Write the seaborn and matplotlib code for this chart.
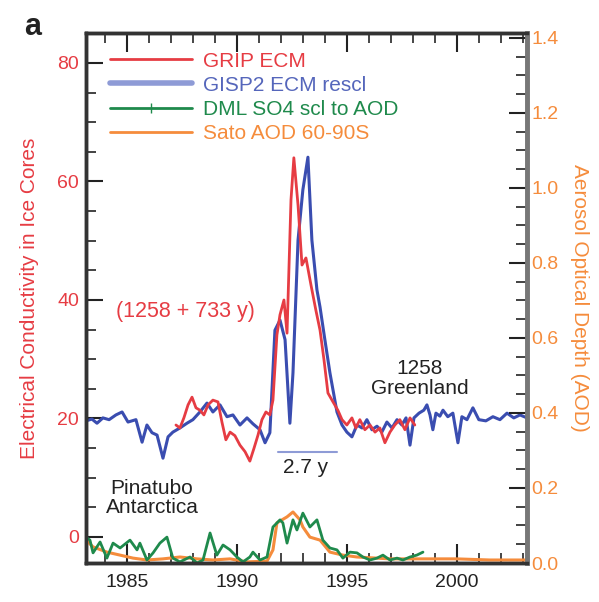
import numpy as np
import pandas as pd
import matplotlib
matplotlib.use("Agg")
import matplotlib.pyplot as plt
from matplotlib.lines import Line2D
from matplotlib.ticker import MultipleLocator
import seaborn as sns

sns.set_theme(style="white")
plt.rcParams['font.family'] = ['Liberation Sans', 'DejaVu Sans']

# ---------------- data ----------------
gisp2_year = [1983.14, 1983.41, 1983.64, 1983.91, 1984.19, 1984.50, 1984.78, 1985.05, 1985.41, 1985.69,
              1985.91, 1986.14, 1986.37, 1986.64, 1986.87, 1987.09, 1987.41, 1987.73, 1988.00, 1988.32,
              1988.64, 1988.91, 1989.23, 1989.55, 1989.82, 1990.14, 1990.46, 1990.73, 1991.05, 1991.28,
              1991.50, 1991.73, 1991.96, 1992.19, 1992.41, 1992.55, 1992.78, 1993.00, 1993.23, 1993.41,
              1993.64, 1993.78, 1994.00, 1994.23, 1994.55, 1994.78, 1995.00, 1995.23, 1995.46, 1995.69,
              1995.91, 1996.14, 1996.37, 1996.59, 1996.82, 1997.05, 1997.28, 1997.50, 1997.69, 1997.87,
              1998.05, 1998.28, 1998.50, 1998.64, 1998.78, 1998.91, 1999.05, 1999.23, 1999.37, 1999.59,
              1999.82, 2000.05, 2000.23, 2000.46, 2000.73, 2001.00, 2001.32, 2001.64, 2001.96, 2002.28,
              2002.59, 2002.87, 2003.19]
gisp2_ecm = [19.6, 19.9, 19.2, 20.1, 19.8, 20.6, 21.1, 19.4, 19.8, 16.0,
             18.9, 17.6, 17.2, 13.3, 16.9, 17.7, 18.4, 19.2, 19.8, 21.1,
             22.6, 21.1, 22.3, 20.3, 20.6, 18.9, 20.1, 19.1, 18.1, 15.9,
             17.6, 34.9, 36.6, 33.3, 19.2, 27.7, 50.1, 58.6, 64.1, 50.1,
             41.7, 38.8, 33.3, 27.7, 21.1, 18.9, 17.7, 16.9, 18.9, 18.4,
             19.8, 18.1, 18.7, 17.7, 19.4, 18.4, 19.8, 18.9, 20.1, 15.5,
             20.1, 20.9, 21.4, 22.3, 20.6, 18.1, 20.9, 20.4, 21.4, 20.3,
             20.9, 15.9, 20.3, 19.8, 21.8, 19.8, 19.6, 20.3, 19.8, 20.9,
             20.1, 20.6, 20.1]

grip_year = [1987.23, 1987.41, 1987.59, 1987.78, 1987.96, 1988.14, 1988.32, 1988.50, 1988.69, 1988.91,
             1989.14, 1989.32, 1989.50, 1989.69, 1989.91, 1990.14, 1990.37, 1990.59, 1990.78, 1990.96,
             1991.14, 1991.32, 1991.50, 1991.64, 1991.82, 1991.96, 1992.14, 1992.28, 1992.46, 1992.59,
             1992.78, 1992.96, 1993.14, 1993.37, 1993.59, 1993.78, 1993.96, 1994.14, 1994.37, 1994.59,
             1994.78, 1995.00, 1995.23, 1995.41, 1995.59, 1995.82, 1996.05, 1996.28, 1996.50, 1996.73,
             1996.96, 1997.18, 1997.41, 1997.64, 1997.87, 1998.09]
grip_ecm = [18.9, 18.4, 20.1, 22.3, 23.6, 21.8, 21.4, 20.6, 22.3, 23.1,
            22.8, 19.4, 16.4, 17.7, 17.1, 15.5, 14.4, 12.8, 15.0, 17.2,
            19.8, 21.1, 20.6, 23.1, 34.1, 37.5, 40.0, 34.4, 56.9, 64.0,
            56.0, 45.9, 47.1, 42.5, 38.3, 34.9, 29.9, 24.3, 22.8, 21.4,
            19.8, 18.9, 20.1, 18.4, 19.8, 18.1, 18.9, 17.7, 18.4, 15.9,
            17.7, 18.9, 19.8, 18.1, 20.1, 18.9]

dml_year = [1983.14, 1983.32, 1983.46, 1983.78, 1984.09, 1984.37, 1984.69, 1985.14, 1985.46, 1985.59,
            1985.91, 1986.19, 1986.50, 1986.82, 1987.09, 1987.41, 1987.87, 1988.19, 1988.46, 1988.78,
            1989.09, 1989.37, 1989.69, 1990.00, 1990.28, 1990.59, 1990.73, 1991.05, 1991.37, 1991.64,
            1991.96, 1992.09, 1992.28, 1992.55, 1992.73, 1993.00, 1993.32, 1993.64, 1993.91, 1994.23,
            1994.55, 1994.82, 1995.14, 1995.46, 1995.73, 1996.05, 1996.37, 1996.64, 1996.96, 1997.28,
            1997.55, 1997.87, 1998.18, 1998.46]
dml_so4_aod = [0.069, 0.061, 0.027, 0.056, 0.013, 0.053, 0.040, 0.061, 0.035, 0.053,
               0.008, 0.027, 0.053, 0.069, 0.013, 0.003, 0.016, 0.000, 0.008, 0.080,
               0.021, 0.048, 0.035, 0.016, 0.003, 0.016, 0.029, 0.008, 0.016, 0.096,
               0.115, 0.107, 0.053, 0.115, 0.088, 0.133, 0.096, 0.115, 0.061, 0.040,
               0.035, 0.013, 0.029, 0.027, 0.016, 0.008, 0.013, 0.021, 0.008, 0.013,
               0.008, 0.016, 0.021, 0.029]

sato_year = [1983.14, 1983.46, 1984.09, 1984.69, 1985.28, 1985.91, 1986.64, 1987.41, 1988.19, 1988.91,
             1989.69, 1990.46, 1991.37, 1991.64, 1991.82, 1992.28, 1992.55, 1992.87, 1993.00, 1993.32,
             1993.78, 1994.23, 1994.82, 1995.46, 1996.96, 1998.46, 2000.00, 2001.50, 2003.19]
sato_aod = [0.061, 0.043, 0.029, 0.021, 0.013, 0.008, 0.011, 0.016, 0.011, 0.008,
            0.011, 0.003, 0.005, 0.035, 0.107, 0.123, 0.136, 0.115, 0.096, 0.069,
            0.061, 0.029, 0.021, 0.016, 0.011, 0.011, 0.011, 0.008, 0.008]

series_labels = ["GRIP ECM", "GISP2 ECM rescl", "DML SO4 scl to AOD", "Sato AOD 60-90S"]
span_years = [1991.85, 1994.55]   # 2.7 y bar
span_level = 14.3

C_RED = "#e63c43"
C_BLUE = "#3a4db0"
C_BLUE_LEG = "#8e9bd6"
C_GREEN = "#1f8a4c"
C_ORANGE = "#f58c3c"

# ---------------- figure ----------------
fig = plt.figure(figsize=(5.99, 6.02), dpi=100)
ax = fig.add_axes([86/599, 39/602, 441/599, 530/602])
ax2 = ax.twinx()

df_gisp = pd.DataFrame({"year": gisp2_year, "v": gisp2_ecm})
df_grip = pd.DataFrame({"year": grip_year, "v": grip_ecm})
df_dml = pd.DataFrame({"year": dml_year, "v": dml_so4_aod})
df_sato = pd.DataFrame({"year": sato_year, "v": sato_aod})

sns.lineplot(data=df_gisp, x="year", y="v", ax=ax, color=C_BLUE, lw=2.2, sort=False, estimator=None)
sns.lineplot(data=df_grip, x="year", y="v", ax=ax, color=C_RED, lw=2.0, sort=False, estimator=None)
sns.lineplot(data=df_sato, x="year", y="v", ax=ax2, color=C_ORANGE, lw=2.2, sort=False, estimator=None)
sns.lineplot(data=df_dml, x="year", y="v", ax=ax2, color=C_GREEN, lw=2.0, sort=False, estimator=None)

ax.plot(span_years, [span_level, span_level], color=C_BLUE_LEG, lw=1.5)

ax.set_xlim(1983.14, 2003.19)
ax.set_ylim(-4.39, 85.06)
ax2.set_ylim(0, 1.413)

ax.set_xlabel("")
ax.set_ylabel("Electrical Conductivity in Ice Cores", color=C_RED, fontsize=15, labelpad=13)
ax2.set_ylabel("Aerosol Optical Depth (AOD)", color=C_ORANGE, fontsize=15, rotation=270, labelpad=22)

ax.set_xticks([1985, 1990, 1995, 2000])
ax.xaxis.set_minor_locator(MultipleLocator(1))
ax.set_yticks([0, 20, 40, 60, 80])
ax.yaxis.set_minor_locator(MultipleLocator(5))
ax2.set_yticks([0, 0.2, 0.4, 0.6, 0.8, 1.0, 1.2, 1.4])
ax2.set_yticklabels(["0.0", "0.2", "0.4", "0.6", "0.8", "1.0", "1.2", "1.4"])
ax2.yaxis.set_minor_locator(MultipleLocator(0.05))

ax.tick_params(axis="x", which="major", direction="in", length=14, width=1.5, top=True, bottom=True,
               labelsize=14, colors="#222222", pad=8)
ax.tick_params(axis="x", which="minor", direction="in", length=7, width=1.2, top=True, bottom=True)
ax.tick_params(axis="y", which="major", direction="in", length=12, width=1.5, left=True, right=False,
               labelsize=14, labelcolor=C_RED, color="#222222", pad=5)
ax.tick_params(axis="y", which="minor", direction="in", length=7, width=1.2, left=True, right=False, color="#222222")
ax2.tick_params(axis="y", which="major", direction="in", length=13, width=1.5, right=True,
                labelsize=14, labelcolor=C_ORANGE, color="#222222", pad=3)
ax2.tick_params(axis="y", which="minor", direction="in", length=8, width=1.2, right=True, color="#222222")

for a in (ax, ax2):
    for s in a.spines.values():
        s.set_linewidth(2.5)
        s.set_color("#333333")
ax2.spines["right"].set_color("#777777")
ax2.spines["right"].set_linewidth(3.5)

# legend
handles = [Line2D([], [], color=C_RED, lw=2),
           Line2D([], [], color=C_BLUE_LEG, lw=4),
           Line2D([], [], color=C_GREEN, lw=2, marker="|", markersize=7, markevery=[1]),
           Line2D([], [], color=C_ORANGE, lw=2)]
for h in handles[2:3]:
    h.set_xdata([0, 0.5, 1]); h.set_ydata([0, 0, 0])
leg = ax2.legend(handles, series_labels, loc="upper left", bbox_to_anchor=(0.055, 0.965),
                 frameon=False, fontsize=15, handlelength=3.9, handletextpad=0.55,
                 labelspacing=0.25, borderpad=0, borderaxespad=0)
for t, c in zip(leg.get_texts(), [C_RED, "#5566bb", C_GREEN, C_ORANGE]):
    t.set_color(c)

# annotations
ax.text(1987.64, 38.0, "(1258 + 733 y)", color=C_RED, fontsize=15.5, ha="center", va="center")
ax.text(1998.32, 26.8, "1258\nGreenland", color="#222222", fontsize=15, ha="center", va="center",
        linespacing=1.05)
ax.text(1986.14, 6.6, "Pinatubo\nAntarctica", color="#222222", fontsize=15, ha="center", va="center",
        linespacing=1.05)
ax.text(1993.14, 11.8, "2.7 y", color="#222222", fontsize=15, ha="center", va="center")
fig.text(0.055, 0.955, "a", fontsize=22, fontweight="bold", color="#222222", ha="center", va="center")

fig.savefig("out.png", dpi=100)
